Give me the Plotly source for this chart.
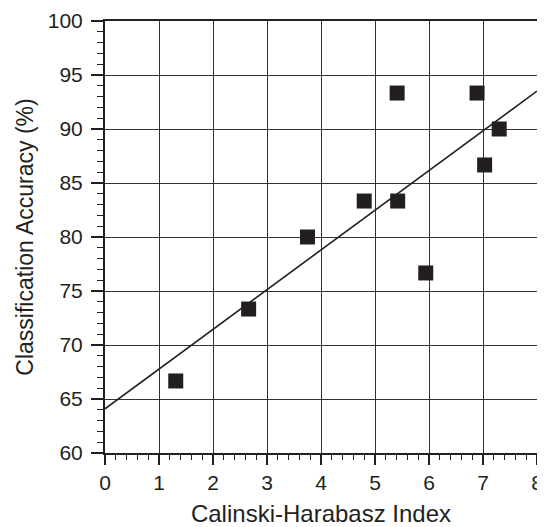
import numpy as np
import plotly.graph_objects as go

# Data
ch_index = [1.31, 2.66, 3.75, 4.80, 5.41, 5.42, 5.94, 6.89, 7.03, 7.30]
accuracy = [66.67, 73.33, 80.00, 83.33, 93.33, 83.33, 76.67, 93.33, 86.67, 90.00]
x_range = [0, 8]
y_range = [60, 100]

slope, intercept = np.polyfit(ch_index, accuracy, 1)
fit_x = np.array(x_range, dtype=float)
fit_y = slope * fit_x + intercept

ink = "#231f20"
font_family = "Liberation Sans, Arial, Helvetica, sans-serif"

fig = go.Figure()
fig.add_trace(go.Scatter(x=fit_x, y=fit_y, mode="lines",
                         line=dict(color=ink, width=1.6), showlegend=False))
fig.add_trace(go.Scatter(x=ch_index, y=accuracy, mode="markers",
                         marker=dict(symbol="square", size=15, color=ink,
                                     line=dict(width=0)),
                         showlegend=False))

axis_common = dict(
    showline=True, linecolor=ink, linewidth=2, mirror=True,
    showgrid=True, gridcolor="#333333", gridwidth=1,
    zeroline=False, ticks="outside", tickcolor=ink, tickwidth=1.5,
    tickfont=dict(size=21, color=ink, family=font_family),
    automargin=False,
)

fig.update_xaxes(range=x_range, dtick=1, tick0=0, ticklen=10,
                 ticklabelstandoff=0,
                 minor=dict(dtick=0.2, ticks="outside", ticklen=5,
                            tickcolor=ink, tickwidth=1, showgrid=False),
                 title=dict(text="Calinski-Harabasz Index",
                            font=dict(size=24, color=ink, family=font_family)),
                 **axis_common)
fig.update_yaxes(range=y_range, dtick=5, tick0=60, ticklen=12,
                 ticklabelstandoff=4,
                 minor=dict(dtick=1, ticks="outside", ticklen=6,
                            tickcolor=ink, tickwidth=1, showgrid=False),
                 title=dict(text="Classification Accuracy (%)", standoff=8,
                            font=dict(size=23, color=ink, family=font_family)),
                 **axis_common)

# page has an 8px body margin, so the figure is drawn 8px in from the corner
fig.update_layout(width=537, height=519,
                  margin=dict(l=97, r=8, t=13, b=74),
                  plot_bgcolor="white", paper_bgcolor="white",
                  font=dict(family=font_family, color=ink))

fig.write_html("out.html")
